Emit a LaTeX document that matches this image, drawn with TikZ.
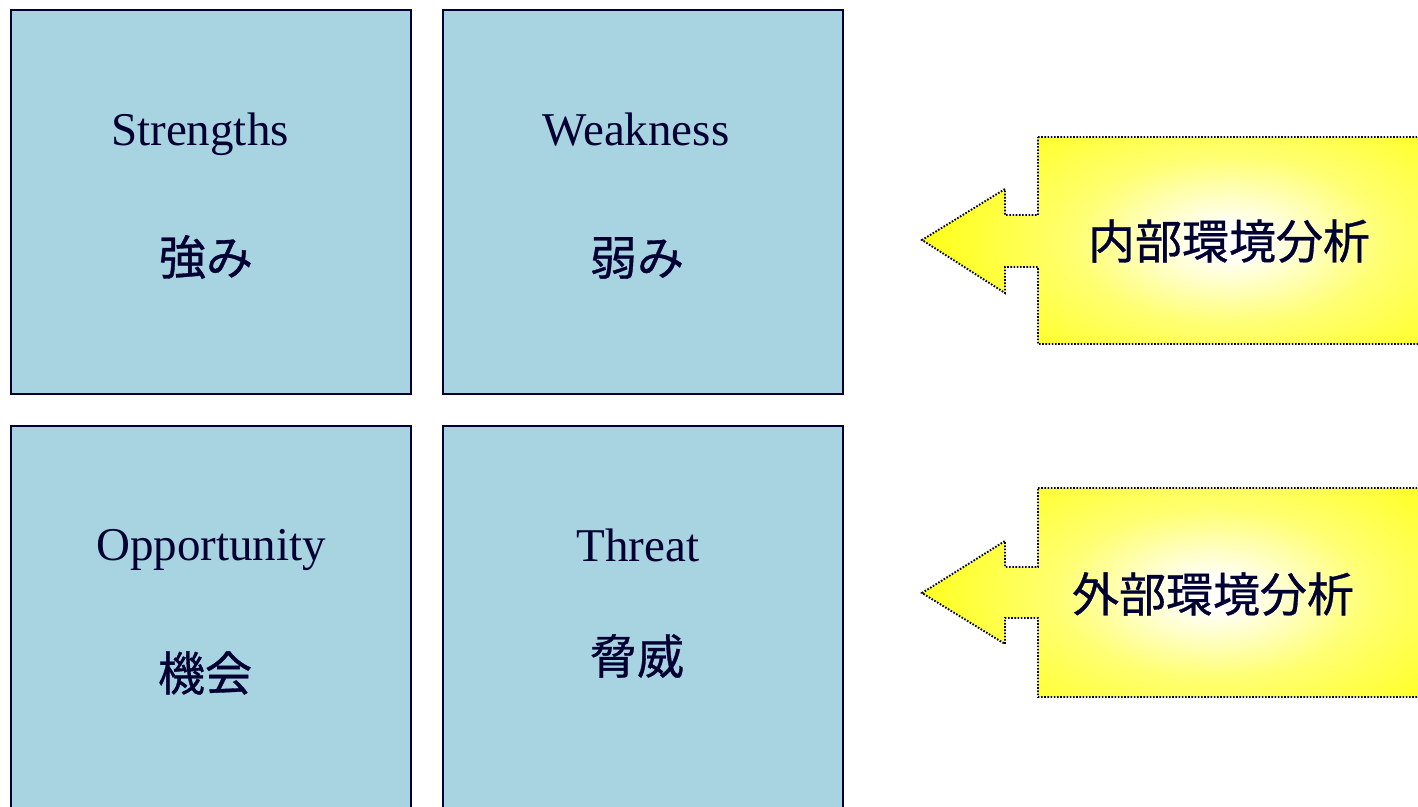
\documentclass[tikz,border=0pt]{standalone}
\usepackage{fontspec}
\setmainfont{Liberation Serif}
\newfontfamily\jp[FakeBold=0.7]{Noto Sans CJK JP}
\definecolor{navy}{RGB}{0,0,51}
\definecolor{boxblue}{RGB}{168,211,224}
\definecolor{yel}{RGB}{255,255,0}
\pgfdeclareradialshading{glow}{\pgfpoint{0bp}{0bp}}{color(0bp)=(white); color(2bp)=(white); color(12bp)=(white!45!yel); color(27bp)=(yel); color(50bp)=(yel)}
\tikzset{
  quad/.style={draw=navy, line width=2pt, fill=boxblue},
  entext/.style={text=navy, inner sep=0pt, anchor=base, font=\fontsize{47}{56}\selectfont},
  jptext/.style={text=navy, inner sep=0pt, anchor=center, font=\jp\fontsize{47}{56}\selectfont},
  calloutline/.style={draw=navy, line width=1.9pt, dash pattern=on 1.6pt off 1.6pt},
}
\begin{document}
\begin{tikzpicture}[x=1pt,y=-1pt]
\clip (0,0) rectangle (1418,806);
\fill[white] (0,0) rectangle (1418,806);
% quadrants
\node[quad, minimum width=400pt, minimum height=384pt, anchor=north west, inner sep=0pt] (S) at (10,9) {};
\node[quad, minimum width=400pt, minimum height=384pt, anchor=north west, inner sep=0pt] (W) at (442,9) {};
\node[quad, minimum width=400pt, minimum height=420pt, anchor=north west, inner sep=0pt] (O) at (10,425) {};
\node[quad, minimum width=400pt, minimum height=420pt, anchor=north west, inner sep=0pt] (T) at (442,425) {};
\node[entext] (s1) at (200,145) {Strengths};
\node[jptext] (s2) at (206,257) {強み};
\node[entext] (w1) at (636,145) {Weakness};
\node[jptext] (w2) at (637,258) {弱み};
\node[entext] (o1) at (211,560) {Opportunity};
\node[jptext] (o2) at (205,673) {機会};
\node[entext] (t1) at (638,561) {Threat};
\node[jptext] (t2) at (637,656) {脅威};
% callout 1
\coordinate (c1) at (1229,241);
\begin{scope}
\clip (1038,137) -- (1419,137) -- (1419,344) -- (1038,344) -- (1038,267) -- (1005,267) -- (1005,293) -- (922,240) -- (1005,189) -- (1005,215) -- (1038,215) -- cycle;
\shade[shading=glow] (909,66) rectangle (1549,416);
\end{scope}
\draw[calloutline] (1038,137) -- (1419,137) -- (1419,344) -- (1038,344) -- (1038,267) -- (1005,267) -- (1005,293) -- (922,240) -- (1005,189) -- (1005,215) -- (1038,215) -- cycle;
\node[jptext] (i1) at (c1) {内部環境分析};
% callout 2
\coordinate (c2) at (1213,594);
\begin{scope}
\clip (1038,488) -- (1419,488) -- (1419,697) -- (1038,697) -- (1038,618) -- (1005,618) -- (1005,644) -- (922,593) -- (1005,541) -- (1005,567) -- (1038,567) -- cycle;
\shade[shading=glow] (893,419) rectangle (1533,769);
\end{scope}
\draw[calloutline] (1038,488) -- (1419,488) -- (1419,697) -- (1038,697) -- (1038,618) -- (1005,618) -- (1005,644) -- (922,593) -- (1005,541) -- (1005,567) -- (1038,567) -- cycle;
\node[jptext] (e1) at (c2) {外部環境分析};
\end{tikzpicture}
\end{document}
